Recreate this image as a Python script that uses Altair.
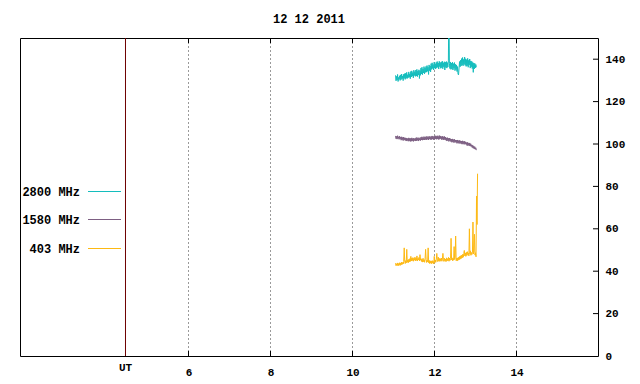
import altair as alt
import numpy as np
import pandas as pd

title_text = "12 12 2011"
series_names = ["2800 MHz", "1580 MHz", "403 MHz"]
series_colors = ["#14BDBD", "#7D5F83", "#FDB913"]
x_ticks = [6, 8, 10, 12, 14]
y_ticks = [0, 20, 40, 60, 80, 100, 120, 140]
ut_pos = [4.463]
ut_label = ["UT"]

# 2800 MHz flux (sfu), UT hours from start to end
t_2800 = [11.05, 13.02]
v_2800 = [132.4, 129.8, 131.9, 130.2, 132.8, 129.5, 131.4, 130.6, 132.2, 130.0,
          132.6, 130.4, 133.0, 130.8, 132.1, 129.9, 132.9, 131.0, 133.2, 130.5,
          133.4, 131.0, 133.8, 130.9, 132.7, 131.3, 134.0, 131.5, 133.1, 130.8,
          134.2, 131.6, 134.5, 132.0, 133.7, 131.2, 134.8, 132.3, 134.1, 131.9,
          134.9, 132.1, 135.2, 131.8, 134.4, 132.6, 135.0, 130.9, 134.6, 132.4,
          135.8, 133.0, 136.2, 132.7, 135.4, 133.5, 136.5, 133.1, 135.9, 133.8,
          136.6, 133.9, 137.0, 134.3, 136.2, 132.8, 137.3, 134.6, 136.8, 134.0,
          137.9, 135.2, 138.3, 135.6, 137.5, 134.9, 138.6, 135.8, 137.8, 135.4,
          138.5, 135.9, 138.9, 136.2, 138.2, 135.4, 139.0, 136.5, 138.4, 135.7,
          138.7, 136.0, 139.1, 135.5, 138.3, 136.4, 138.8, 134.9, 138.6, 136.1,
          138.9, 135.8, 138.4, 136.3, 139.2, 168.0, 138.1, 135.6, 138.7, 135.2,
          138.2, 135.4, 138.6, 134.9, 137.9, 135.7, 138.4, 134.6, 137.6, 135.1,
          137.3, 134.2, 136.5, 133.0, 132.6, 135.8, 138.9, 136.4, 139.5, 136.8,
          140.3, 137.2, 140.8, 136.9, 139.9, 137.6, 141.0, 137.1, 140.2, 136.6,
          139.8, 136.9, 140.4, 136.2, 139.5, 137.3, 140.1, 135.8, 139.2, 136.4,
          139.0, 135.6, 138.5, 133.8, 138.2, 135.4, 138.0, 135.9, 137.5, 136.2]

t_1580 = [11.05, 13.02]
v_1580 = [103.8, 102.5, 103.6, 102.3, 103.9, 102.6, 103.4, 102.2, 103.7, 102.4,
          103.2, 101.8, 103.4, 102.0, 103.1, 101.6, 103.3, 101.9, 102.9, 101.7,
          102.9, 101.4, 102.8, 101.6, 102.6, 101.3, 102.9, 101.5, 102.7, 101.2,
          102.7, 101.3, 102.9, 101.5, 102.6, 101.2, 102.8, 101.6, 102.5, 101.4,
          102.9, 101.5, 103.1, 101.7, 102.8, 101.4, 103.0, 101.8, 102.7, 101.6,
          103.2, 101.9, 103.4, 101.8, 103.1, 102.0, 103.5, 101.9, 103.3, 102.1,
          103.5, 102.0, 103.6, 102.2, 103.3, 101.9, 103.7, 102.3, 103.4, 102.1,
          103.6, 102.1, 103.8, 102.3, 103.5, 102.0, 103.7, 102.2, 103.9, 102.4,
          103.7, 102.2, 103.9, 102.4, 103.6, 102.1, 104.0, 102.3, 103.8, 102.5,
          103.5, 102.0, 103.7, 102.2, 103.4, 101.9, 103.6, 102.1, 103.3, 101.8,
          102.9, 101.4, 103.0, 101.6, 102.7, 101.2, 102.8, 101.5, 102.5, 101.1,
          102.3, 100.8, 102.4, 101.0, 102.1, 100.6, 102.2, 100.9, 101.9, 100.7,
          101.8, 100.3, 101.9, 100.5, 101.6, 100.2, 101.7, 100.4, 101.5, 100.1,
          101.4, 99.9, 101.5, 100.1, 101.2, 99.8, 101.3, 100.0, 101.0, 99.7,
          100.7, 99.2, 100.8, 99.4, 100.4, 99.1, 100.5, 99.0, 100.1, 98.8,
          99.6, 98.3, 99.4, 98.0, 99.0, 97.7, 98.7, 97.5, 98.2, 97.1]

t_403 = [11.05, 13.05]
v_403 = [43.8, 42.6, 43.5, 42.8, 43.9, 42.5, 43.6, 42.9, 44.0, 42.7,
         43.9, 43.0, 44.3, 43.2, 44.1, 43.4, 44.6, 51.0, 44.8, 43.6,
         45.0, 43.9, 50.3, 44.2, 45.3, 44.0, 45.6, 44.4, 45.9, 44.6,
         47.0, 44.8, 46.2, 45.0, 46.4, 44.7, 46.1, 45.2, 46.6, 44.9,
         46.3, 45.1, 47.2, 44.8, 46.0, 45.3, 46.5, 44.9, 47.8, 45.2,
         45.9, 44.6, 45.7, 44.3, 46.1, 44.5, 45.4, 44.2, 45.8, 50.3,
         45.6, 44.1, 45.2, 44.4, 51.0, 44.0, 45.1, 43.6, 44.9, 43.8,
         44.8, 43.5, 45.0, 43.9, 44.6, 43.4, 47.0, 44.1, 45.3, 44.2,
         45.6, 48.4, 45.2, 44.5, 46.6, 44.8, 46.0, 44.6, 45.9, 44.9,
         46.2, 44.7, 45.8, 48.4, 45.4, 44.6, 46.1, 44.9, 45.7, 44.5,
         46.3, 44.8, 45.9, 45.0, 46.5, 44.7, 46.2, 45.1, 46.0, 55.5,
         45.4, 46.3, 44.9, 46.0, 45.2, 51.6, 45.5, 46.4, 56.6, 45.0,
         46.1, 44.8, 46.3, 45.2, 46.6, 45.4, 47.0, 45.7, 47.3, 46.0,
         47.6, 46.3, 48.0, 46.6, 48.4, 49.8, 47.2, 48.6, 47.0, 48.9,
         47.4, 49.2, 47.8, 48.5, 47.2, 60.0, 48.0, 49.6, 47.5, 48.8,
         47.9, 49.0, 63.2, 48.1, 49.4, 57.4, 47.6, 48.7, 46.8, 75.4,
         62.0, 86.0]

W, H = 578, 318
FONT = "Liberation Mono"

xs = alt.Scale(domain=[1.8902, 15.9878], nice=False, zero=False)
ys = alt.Scale(domain=[0, 150], nice=False, zero=True)
x_axis = alt.Axis(values=x_ticks, title=None, ticks=False, domain=False, grid=False,
                  labelFont=FONT, labelFontSize=11, labelFontWeight="bold",
                  labelColor="black", labelPadding=10, orient="bottom")
y_axis = alt.Axis(values=y_ticks, title=None, ticks=False, domain=False, grid=False,
                  labelFont=FONT, labelFontSize=11, labelFontWeight="bold",
                  labelColor="black", labelPadding=7, orient="right", labelAlign="left")


def X(field="x"):
    return alt.X(f"{field}:Q", scale=xs, axis=x_axis)


def Y(field="y"):
    return alt.Y(f"{field}:Q", scale=ys, axis=y_axis)


def series_df(tr, vals):
    return pd.DataFrame({"x": np.linspace(tr[0], tr[1], len(vals)), "y": vals})


xt = pd.DataFrame({"x": x_ticks})
yt = pd.DataFrame({"y": y_ticks[1:]})
ut = pd.DataFrame({"x": ut_pos, "label": ut_label})

layers = []
layers.append(alt.Chart(xt).mark_rule(color="#9a9a9a", strokeDash=[2, 2], strokeWidth=1).encode(x=X()))
layers.append(alt.Chart(xt).mark_rule(color="black", strokeWidth=1).encode(
    x=X(), y=alt.value(H), y2=alt.value(H - 5)))
layers.append(alt.Chart(xt).mark_rule(color="black", strokeWidth=1).encode(
    x=X(), y=alt.value(0), y2=alt.value(5)))
layers.append(alt.Chart(yt).mark_rule(color="black", strokeWidth=1).encode(
    y=Y(), x=alt.value(W), x2=alt.value(W - 5)))
layers.append(alt.Chart(ut).mark_rule(color="#6E0000", strokeWidth=1).encode(x=X()))
layers.append(alt.Chart(ut).mark_text(font=FONT, fontSize=11, fontWeight="bold", color="black",
                                      baseline="middle", align="center").encode(
    x=X(), y=alt.value(H + 12), text="label:N"))

for tr, vals, col in [(t_2800, v_2800, series_colors[0]),
                      (t_1580, v_1580, series_colors[1]),
                      (t_403, v_403, series_colors[2])]:
    layers.append(alt.Chart(series_df(tr, vals)).mark_line(
        color=col, strokeWidth=1, clip=True, interpolate="linear").encode(x=X(), y=Y()))

legend_y = [153.5, 181.5, 210.5]
for name, col, ly in zip(series_names, series_colors, legend_y):
    d = pd.DataFrame({"label": [name]})
    layers.append(alt.Chart(d).mark_text(font=FONT, fontSize=12, fontWeight="bold", color="black",
                                         align="right", baseline="middle").encode(
        x=alt.value(60), y=alt.value(ly), text="label:N"))
    layers.append(alt.Chart(d).mark_rule(color=col, strokeWidth=1).encode(
        x=alt.value(68), x2=alt.value(101), y=alt.value(ly)))

td = pd.DataFrame({"label": [title_text]})
layers.append(alt.Chart(td).mark_text(font=FONT, fontSize=12, fontWeight="bold", color="black",
                                      align="center", baseline="middle").encode(
    x=alt.value(W / 2), y=alt.value(-19), text="label:N"))

chart = alt.layer(*layers).properties(
    width=W, height=H,
    autosize=alt.AutoSizeParams(type="none"),
    padding={"left": 12, "top": 30, "right": 30, "bottom": 24},
    background="white",
).configure_view(stroke="black", strokeWidth=1)

chart.save("out.html", embed_options={"renderer": "svg", "actions": False})
